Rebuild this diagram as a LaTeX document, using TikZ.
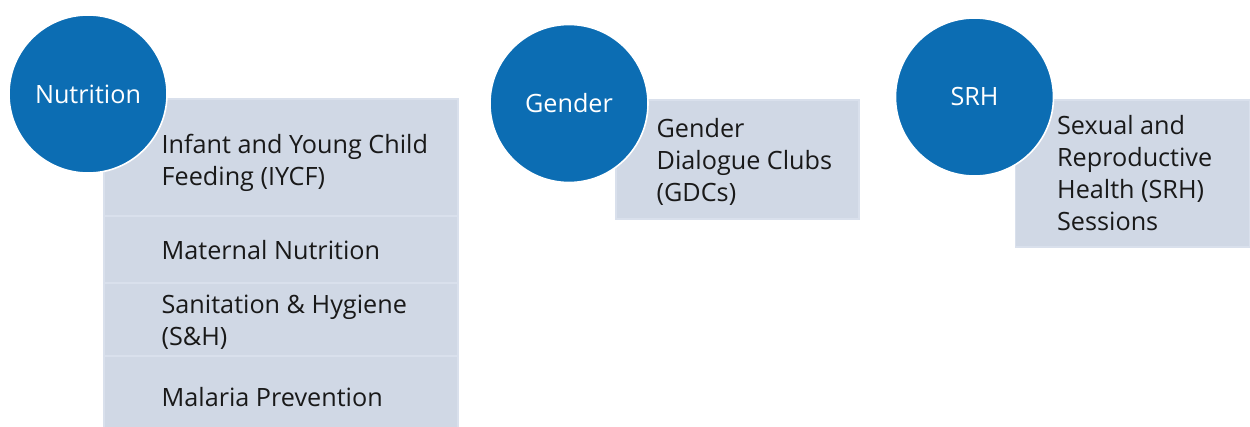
\documentclass[tikz,border=0pt]{standalone}
\usepackage{fontspec}
\setmainfont{Open Sans}
\usetikzlibrary{positioning}
\definecolor{topicblue}{RGB}{12,109,179}
\definecolor{itemgrey}{RGB}{208,216,229}
\definecolor{itemline}{RGB}{217,224,236}
\begin{document}
\begin{tikzpicture}[x=0.5pt,y=-0.5pt,
  topic/.style={circle,fill=topicblue,draw=white,line width=0.8pt,minimum size=79pt,inner sep=0pt,text=white,font=\fontsize{12.6}{16}\selectfont},
  itembox/.style={rectangle,fill=itemgrey,draw=itemline,line width=0.75pt,inner sep=0pt},
  itemtext/.style={align=left,inner sep=0pt,text=black!90,font=\fontsize{12.6}{16}\selectfont}]
\useasboundingbox (0,0) rectangle (1250,427);
%----- nutrition rows using for loop
\foreach \n/\yc/\h/\dy/\txt in {iycf/157.5/58.5/-2.5/{Infant and Young Child\\Feeding (IYCF)},maternal/249.5/33.5/-0.5/{Maternal Nutrition},sanit/319.5/36.5/-1.5/{Sanitation \& Hygiene\\(S\&H)},malaria/396/40/-0.5/{Malaria Prevention}}{
\node[itembox,minimum width=177pt,minimum height=\h pt] (\n) at (281,\yc) {};
\node[itemtext,right=29pt of \n.west,yshift=\dy pt] (t\n) {\txt}; % row text
}
% --- gender and srh boxes
\node[itembox,minimum width=121.5pt,minimum height=59.5pt] (gdc) at (737.5,159.5) {};
\node[itemtext,right=20.5pt of gdc.west,yshift=-1pt] (tgdc) {Gender\\Dialogue Clubs\\(GDCs)};
\node[itembox,minimum width=117pt,minimum height=73.5pt] (srhs) at (1132.5,173.5) {};
\node[itemtext,right=21pt of srhs.west] (tsrhs) {Sexual and\\Reproductive\\Health (SRH)\\Sessions};
% --- topic circles on top
\node[topic] (nutrition) at (88,94) {Nutrition};
\node[topic] (gender) at (569,103.5) {Gender};
\node[topic] (srh) at (974.5,97) {SRH};
\end{tikzpicture}
\end{document}
